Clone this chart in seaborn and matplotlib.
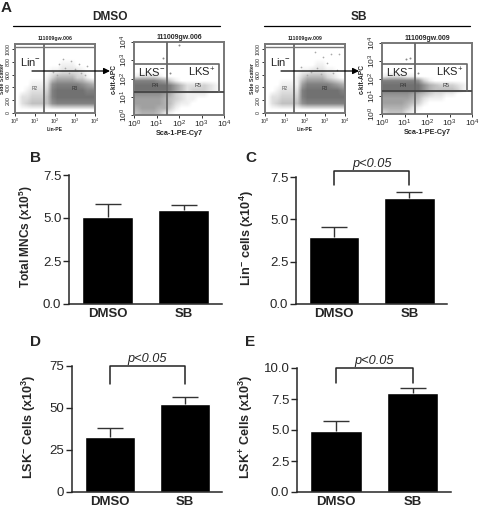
import matplotlib
matplotlib.use("Agg")
import matplotlib.pyplot as plt
import numpy as np
import pandas as pd
import seaborn as sns

# ==========================================
# DATA
# ==========================================
GROUPS = ["DMSO", "SB"]

MNC_MEANS = [5.05, 5.45]
MNC_ERRS = [0.75, 0.3]
LIN_MEANS = [3.95, 6.25]
LIN_ERRS = [0.6, 0.35]
LSK_NEG_MEANS = [32.5, 52.5]
LSK_NEG_ERRS = [5.7, 4.3]
LSK_POS_MEANS = [4.9, 8.0]
LSK_POS_ERRS = [0.85, 0.35]

MNC_TICKS = ["0.0", "2.5", "5.0", "7.5"]
LIN_TICKS = ["0.0", "2.5", "5.0", "7.5"]
LSK_NEG_TICKS = ["0", "25", "50", "75"]
LSK_POS_TICKS = ["0.0", "2.5", "5.0", "7.5", "10.0"]

# coarse density of the flow plots, digit = how dark, top row first
LIN_DMSO = [
    "0000000000000000",
    "0000000000000000",
    "0000000000000000",
    "0000000001110000",
    "0000000112222100",
    "0000001355553310",
    "0001112788888765",
    "0012223899999988",
    "0223334899999999",
    "0234444788888888",
    "0000000000000000",
]
LIN_SB = [
    "0000000000000000",
    "0000000000000000",
    "0000000000000000",
    "0000000000110000",
    "0000000112221100",
    "0000001355553210",
    "0001111688888765",
    "0012222899999998",
    "0223333899999999",
    "0234444788888888",
    "0000000000000000",
]
KIT_DMSO = [
    "0000000000000000",
    "0000000000000000",
    "0000000000000000",
    "0000000000000000",
    "0000000000000000",
    "0000000000000000",
    "0000000000000000",
    "1222100000000000",
    "8888763100000000",
    "9999998642223210",
    "9999998642333210",
    "7777765321111000",
    "6666654321100000",
    "6666654211000000",
    "5666553100000000",
    "4555421000000000",
]
KIT_SB = [
    "0000000000000000",
    "0000000000000000",
    "0000000000000000",
    "0000000000000000",
    "0000000000000000",
    "0000000000000000",
    "0000000000000000",
    "1222110000000000",
    "8888887310000000",
    "9999999754333210",
    "9999999754444310",
    "7777765432211000",
    "6666654211100000",
    "6666543100000000",
    "5555421000000000",
    "3444210000000000",
]

# stray events above the main clouds
LIN_DMSO_X = [1.9, 2.2, 2.5, 2.8, 3.0, 3.3, 3.6, 2.1, 2.7, 3.2, 3.5, 2.4]
LIN_DMSO_Y = [640, 760, 700, 820, 690, 620, 740, 600, 630, 760, 590, 850]
LIN_SB_X = [1.8, 2.3, 2.6, 2.9, 3.1, 3.4, 3.7, 2.1, 2.8, 3.3, 2.5, 3.6]
LIN_SB_Y = [720, 640, 700, 880, 780, 620, 930, 600, 610, 930, 960, 680]
KIT_DMSO_X = [1.3, 2.0, 1.6]
KIT_DMSO_Y = [3.1, 3.85, 2.3]
KIT_SB_X = [1.05, 1.25, 1.6]
KIT_SB_Y = [3.1, 3.15, 2.3]

W, H = 480, 508


def px_axes(fig, left, top, right, bottom):
    # axes placed from pixel edges of the picture
    return fig.add_axes([left / W, 1 - bottom / H, (right - left) / W, (bottom - top) / H])


def decade_labels(ax, size):
    labels = ["$\\mathregular{10^{%d}}$" % i for i in range(5)]
    ax.set_xticks(range(5), labels, fontsize=size)
    ax.tick_params(axis="both", length=2, width=0.7, pad=1, color="#333333")
    ax.set_xlim(0, 4)


def draw_density(ax, rows, top):
    grid = np.array([[int(c) for c in r] for r in rows], dtype=float)
    ax.imshow(1 - grid * 0.062, cmap="gray", vmin=0, vmax=1, aspect="auto",
              interpolation="bilinear", extent=(0, 4, 0, top), zorder=1)


def style_frame(ax):
    for s in ax.spines.values():
        s.set_color("#777777")
        s.set_linewidth(1.4)


def lin_panel(fig, box, rows, sx, sy, name):
    ax = px_axes(fig, *box)
    draw_density(ax, rows, 1100)
    sns.scatterplot(x=sx, y=sy, s=1.5, color="#aaaaaa", linewidth=0, ax=ax, zorder=2)
    ax.axvline(1.45, color="#666666", lw=1.3, zorder=3)
    ax.axhline(1030, color="#777777", lw=1.0, zorder=3)
    decade_labels(ax, 3.8)
    ax.set_ylim(0, 1080)
    ax.set_yticks(range(0, 1001, 200), [str(v) for v in range(0, 1001, 200)],
                  fontsize=3.8, rotation=90, va="center")
    ax.set_xlabel("Lin-PE", fontsize=3.6, fontweight="bold", labelpad=0.5)
    ax.set_ylabel("Side Scatter", fontsize=3.8, fontweight="bold", labelpad=0.5)
    ax.set_title(name, fontsize=3.8, fontweight="bold", pad=3)
    ax.text(0.25, 800, "Lin$^{\\mathregular{-}}$", fontsize=8, color="#222222", va="center", zorder=4)
    ax.text(1.0, 390, "R2", fontsize=3.5, color="#555555", ha="center", va="center", zorder=4)
    ax.text(3.0, 390, "R3", fontsize=3.5, color="#333333", ha="center", va="center", zorder=4)
    style_frame(ax)


def kit_panel(fig, box, rows, sx, sy, name):
    ax = px_axes(fig, *box)
    draw_density(ax, rows, 4)
    sns.scatterplot(x=sx, y=sy, s=2, color="#888888", linewidth=0, ax=ax, zorder=2)
    ax.axvline(1.45, color="#666666", lw=1.3, zorder=3)
    ax.axhline(1.28, color="#444444", lw=1.3, zorder=3)
    ax.plot([0, 3.78, 3.78], [2.8, 2.8, 1.28], color="#666666", lw=1.2, zorder=3)
    decade_labels(ax, 6)
    ax.set_ylim(0, 4)
    ax.set_yticks(range(5), ["$\\mathregular{10^{%d}}$" % i for i in range(5)],
                  fontsize=6, rotation=90, va="center")
    ax.set_xlabel("Sca-1-PE-Cy7", fontsize=5.2, fontweight="bold", labelpad=0)
    ax.set_ylabel("c-kit-APC", fontsize=4.8, fontweight="bold", labelpad=0.5)
    ax.set_title(name, fontsize=5, fontweight="bold", pad=2)
    ax.text(0.2, 2.35, "LKS$^{\\mathregular{-}}$", fontsize=8, color="#222222", va="center", zorder=4)
    ax.text(2.38, 2.35, "LKS$^{\\mathregular{+}}$", fontsize=8, color="#222222", va="center", zorder=4)
    ax.text(0.92, 1.6, "R4", fontsize=4, color="#333333", ha="center", va="center", zorder=4)
    ax.text(2.85, 1.6, "R5", fontsize=4, color="#333333", ha="center", va="center", zorder=4)
    style_frame(ax)


def bar_panel(fig, box, means, errs, ymax, ticks, ylabel, label_x, label_y, label_size, bracket=None):
    ax = px_axes(fig, *box)
    df = pd.DataFrame({"group": GROUPS, "value": means})
    sns.barplot(data=df, x="group", y="value", color="black", width=0.67,
                saturation=1, errorbar=None, ax=ax)
    _, caps, _ = ax.errorbar(range(2), means, yerr=[[0, 0], errs], fmt="none", ecolor="#333333",
                             elinewidth=1, capsize=9.2, capthick=1)
    caps[0].set_visible(False)
    ax.set_xlim(-0.51, 1.5)
    ax.set_ylim(0, ymax)
    ax.set_yticks(np.linspace(0, ymax, len(ticks)), ticks, fontsize=9.5)
    ax.tick_params(axis="y", length=4, width=1, pad=1.5)
    ax.tick_params(axis="x", length=0, pad=3)
    ax.set_xticks(range(2), GROUPS, fontsize=9.5, fontweight="bold")
    ax.set_xlabel("")
    ax.set_ylabel(ylabel, fontsize=label_size, fontweight="bold")
    ax.yaxis.set_label_coords((label_x - box[0]) / (box[2] - box[0]),
                              (box[3] - label_y) / (box[3] - box[1]))
    for s in ["top", "right"]:
        ax.spines[s].set_visible(False)
    for s in ["left", "bottom"]:
        ax.spines[s].set_linewidth(1.1)
    if bracket is not None:
        low, high = bracket
        ax.plot([0, 0, 1, 1], [low, high, high, low], color="#222222", lw=1.1, clip_on=False)
        ax.annotate("p<0.05", xy=(0.5, high), xytext=(0, 4.8), textcoords="offset points",
                    fontsize=9.2, style="italic", ha="center", va="center", annotation_clip=False)


sns.set_style("ticks")
plt.rcParams["font.family"] = ["Liberation Sans", "DejaVu Sans"]
plt.rcParams["mathtext.fontset"] = "custom"
plt.rcParams["mathtext.rm"] = "Liberation Sans"
plt.rcParams["mathtext.bf"] = "Liberation Sans:bold"
plt.rcParams["mathtext.default"] = "regular"

fig = plt.figure(figsize=(4.8, 5.08), dpi=100)

lin_panel(fig, (15, 44, 95, 113), LIN_DMSO, LIN_DMSO_X, LIN_DMSO_Y, "111009gw.006")
kit_panel(fig, (134, 42, 224, 115), KIT_DMSO, KIT_DMSO_X, KIT_DMSO_Y, "111009gw.006")
lin_panel(fig, (265, 44, 345, 113), LIN_SB, LIN_SB_X, LIN_SB_Y, "111009gw.009")
kit_panel(fig, (382, 43, 472, 114), KIT_SB, KIT_SB_X, KIT_SB_Y, "111009gw.009")

bar_panel(fig, (69, 175, 222, 304), MNC_MEANS, MNC_ERRS, 7.5, MNC_TICKS,
          "Total MNCs (x10$^{\\mathbf{5}}$)", 35, 237, 8.6)
bar_panel(fig, (296, 177, 447, 304), LIN_MEANS, LIN_ERRS, 7.5, LIN_TICKS,
          "Lin$^{\\mathbf{-}}$ cells (x10$^{\\mathbf{4}}$)", 256, 238, 9.1, bracket=(7.05, 7.85))
bar_panel(fig, (72, 366, 222, 492), LSK_NEG_MEANS, LSK_NEG_ERRS, 75, LSK_NEG_TICKS,
          "LSK$^{\\mathbf{-}}$ Cells (x10$^{\\mathbf{3}}$)", 38, 427, 9.1, bracket=(64.5, 75))
bar_panel(fig, (297, 368, 451, 492), LSK_POS_MEANS, LSK_POS_ERRS, 10, LSK_POS_TICKS,
          "LSK$^{\\mathbf{+}}$ Cells (x10$^{\\mathbf{3}}$)", 255, 427, 9.1, bracket=(8.8, 10))

# overlay for the section headers, arrows and panel letters, in picture pixels
top = fig.add_axes([0, 0, 1, 1], facecolor="none")
top.set_xlim(0, W)
top.set_ylim(H, 0)
top.axis("off")
top.plot([13, 220], [26, 26], color="black", lw=0.9)
top.plot([264, 470], [26, 26], color="black", lw=0.9)
top.text(110, 16.5, "DMSO", fontsize=8.6, fontweight="bold", ha="center", va="center")
top.text(359, 16.5, "SB", fontsize=8.6, fontweight="bold", ha="center", va="center")
for x0, x1 in [(32, 110), (281, 359)]:
    top.annotate("", xy=(x1, 71), xytext=(x0, 71),
                 arrowprops=dict(arrowstyle="-|>", color="black", lw=0.9, mutation_scale=9,
                                 shrinkA=0, shrinkB=0))
for letter, x, y in [("A", 1, 8), ("B", 30, 158), ("C", 245, 158), ("D", 30, 342), ("E", 245, 342)]:
    top.text(x, y, letter, fontsize=11, fontweight="bold", ha="left", va="center")

fig.savefig("out.png", dpi=100)
